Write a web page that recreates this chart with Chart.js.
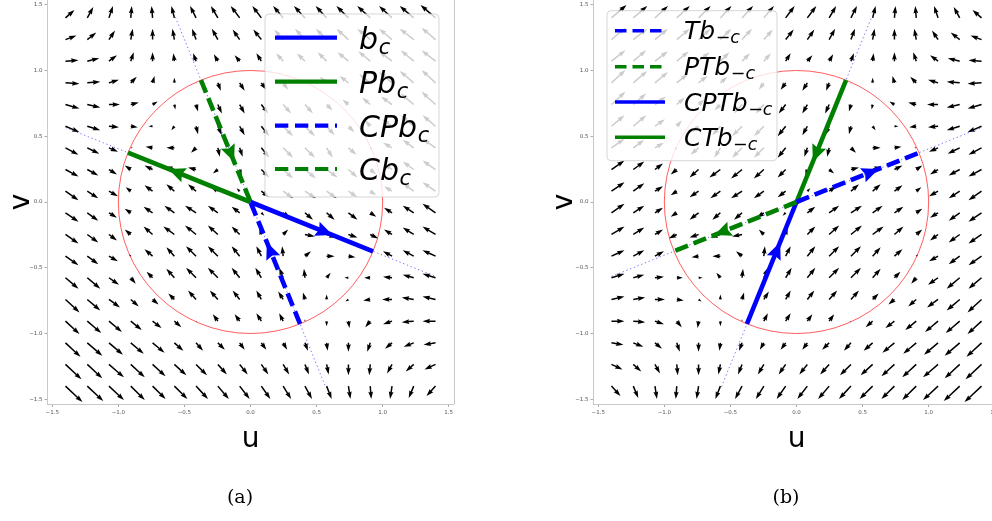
<!DOCTYPE html>
<html><head><meta charset="utf-8">
<script src="https://cdn.jsdelivr.net/npm/chart.js@4"></script>
<style>
html,body{margin:0;padding:0;background:#fff;overflow:hidden;width:992px;height:521px;}
#wrap{position:relative;width:992px;height:521px;overflow:hidden;background:#fff;}
canvas{position:absolute;top:0;}
#ca{left:0px}
#cb{left:546px}
</style></head><body><div id="wrap"><canvas id="ca" width="470" height="521"></canvas><canvas id="cb" width="470" height="521"></canvas></div>
<script>
// ---------- data ----------
const gridU = [-1.4,-1.235,-1.071,-0.906,-0.741,-0.576,-0.412,-0.247,-0.082,0.082,0.247,0.412,0.576,0.741,0.906,1.071,1.235,1.4];
const gridV = [1.4,1.235,1.071,0.906,0.741,0.576,0.412,0.247,0.082,-0.082,-0.247,-0.412,-0.576,-0.741,-0.906,-1.071,-1.235,-1.4];
const tickValues = [-1.5,-1.0,-0.5,0.0,0.5,1.0,1.5];
const tickLabels = ['\u22121.5','\u22121.0','\u22120.5','0.0','0.5','1.0','1.5'];
const circleRadius = 1.0;

// panel (a) field components (rows top->bottom, cols left->right)
const fieldA_U = [
[9,6,4,1,-1,-3,-6,-7,-9,-9,-10,-11,-11,-12,-13,-13,-14,-15],
[11,9,6,2,0,-2,-4,-6,-7,-8,-9,-10,-11,-12,-13,-13,-14,-14],
[13,12,8,3,0,-1,-3,-4,-5,-5,-7,-8,-9,-11,-12,-13,-13,-14],
[14,13,10,6,2,0,0,3,5,5,5,0,-7,-9,-11,-13,-14,-14],
[14,13,11,8,5,1,2,4,5,7,8,8,6,-6,-8,-11,-13,-14],
[14,13,10,7,-4,-3,2,4,5,8,10,10,8,6,-5,-10,-13,-13],
[13,12,9,2,-7,-8,-5,2,3,8,10,10,6,8,2,-9,-11,-13],
[13,11,8,-6,-8,-9,-8,-5,2,8,10,11,11,9,6,-8,-11,-13],
[13,11,9,-5,-8,-8,-8,-7,-3,8,10,11,10,9,6,-8,-11,-13],
[13,11,8,-6,-9,-10,-11,-10,-8,3,7,8,8,9,6,-8,-11,-13],
[13,11,8,-6,-9,-11,-11,-10,-8,-2,5,10,10,9,8,-8,-11,-13],
[13,11,9,-2,-8,-8,-10,-10,-8,-5,-1,6,8,7,0,-9,-11,-13],
[13,13,10,5,-6,-8,-10,-10,-8,-6,-4,-1,4,-4,-6,-9,-11,-13],
[14,13,11,8,6,-6,-8,-8,-7,-5,-5,-2,0,-3,-7,-10,-12,-13],
[14,14,13,11,9,7,1,-5,-5,-5,-4,0,0,1,-5,-9,-12,-13],
[15,15,14,13,12,9,7,7,5,5,4,3,1,0,-3,-7,-10,-12],
[16,15,15,14,13,12,11,9,8,7,6,4,2,0,-1,-5,-8,-11],
[17,16,15,14,13,13,12,11,10,9,8,7,5,2,1,-2,-5,-9]];
const fieldA_V = [
[8,11,12,12,12,12,12,12,12,12,12,12,12,12,12,12,12,13],
[4,7,9,11,11,11,11,11,10,10,10,11,11,11,11,11,11,12],
[1,3,6,9,9,8,8,7,6,8,8,8,9,9,10,10,11,11],
[-1,1,3,6,7,5,-1,-8,-8,-7,-7,0,6,7,9,11,12,13],
[-4,-3,0,2,3,-5,-7,-9,-9,-9,-9,-9,-6,5,7,8,11,13],
[-6,-4,-1,-1,0,-4,-8,-9,-9,-10,-10,-10,-9,-6,6,7,11,11],
[-7,-6,-4,0,1,0,-5,-9,-9,-10,-10,-10,-10,-7,-2,5,8,9],
[-7,-6,-5,4,4,3,2,-4,-6,-8,-9,-9,-8,-8,-5,6,8,9],
[-9,-7,-5,4,6,7,7,5,3,-6,-7,-7,-7,-6,-4,5,8,9],
[-9,-8,-5,4,6,7,7,7,6,-3,-5,-7,-7,-7,-4,5,7,9],
[-9,-8,-6,5,8,8,9,9,8,6,5,-2,-3,-3,-4,5,7,8],
[-9,-8,-5,2,7,9,10,10,10,10,10,5,0,-1,0,5,6,6],
[-11,-11,-7,-6,6,9,10,10,10,10,10,9,5,0,0,1,3,4],
[-13,-11,-8,-7,-5,6,9,9,9,9,8,7,5,-2,-1,0,2,3],
[-13,-12,-11,-9,-7,-6,-1,7,7,8,8,2,-5,-7,-6,-3,-1,0],
[-14,-13,-12,-11,-10,-8,-8,-7,-7,-7,-7,-8,-8,-9,-9,-6,-4,-2],
[-15,-14,-13,-13,-12,-11,-11,-10,-10,-10,-10,-10,-10,-11,-11,-9,-7,-5],
[-16,-15,-14,-14,-13,-13,-13,-13,-13,-13,-13,-13,-13,-13,-13,-13,-12,-10]];

// panel (b) field components
const fieldB_U = [
[15,14,13,13,12,11,11,10,9,9,7,6,3,1,-1,-4,-6,-9],
[14,14,13,13,12,11,10,9,8,7,6,4,2,0,-2,-6,-9,-11],
[14,13,13,12,11,9,8,7,5,5,4,3,1,0,-3,-8,-12,-13],
[14,14,13,11,9,7,0,-5,-5,-5,-3,0,0,-2,-6,-10,-13,-14],
[14,13,11,8,6,-6,-8,-8,-7,-5,-4,-2,-1,-5,-8,-11,-13,-14],
[13,13,10,5,-6,-8,-10,-10,-8,-5,-4,-2,3,4,-7,-10,-13,-14],
[13,11,9,-2,-8,-6,-10,-10,-8,-3,-2,5,8,7,-2,-9,-12,-13],
[13,11,8,-6,-9,-11,-11,-10,-8,-2,5,8,9,8,6,-8,-11,-13],
[13,11,8,-6,-9,-10,-11,-10,-8,3,7,8,8,8,5,-9,-11,-13],
[13,11,8,-6,-9,-8,-8,-7,-3,8,10,11,10,9,6,-8,-11,-13],
[13,11,8,-8,-9,-10,-10,-5,2,8,10,11,11,9,6,-8,-11,-13],
[13,11,9,0,-7,-8,-6,1,5,8,10,10,8,8,2,-9,-11,-13],
[13,11,9,6,4,-4,1,4,6,8,10,10,8,6,-5,-10,-13,-13],
[13,12,10,7,3,0,2,5,5,7,8,8,6,-6,-8,-11,-13,-14],
[13,12,9,5,-1,0,0,4,5,5,5,-1,-7,-9,-11,-13,-14,-14],
[12,10,7,3,0,-1,-3,-4,-5,-5,-7,-7,-9,-12,-13,-14,-15,-15],
[11,8,5,1,0,-2,-4,-6,-7,-8,-9,-11,-12,-13,-14,-15,-15,-16],
[9,5,2,-1,-2,-5,-7,-8,-9,-10,-11,-12,-13,-13,-14,-15,-16,-17]];
const fieldB_V = [
[13,12,12,12,12,12,12,12,12,12,12,12,12,12,12,12,11,8],
[12,11,11,11,11,11,11,10,10,10,11,11,11,11,11,9,7,4],
[11,11,10,10,9,9,8,8,8,6,7,8,8,9,9,6,3,1],
[13,12,11,9,7,6,0,-7,-7,-8,-8,-1,5,7,6,3,1,-1],
[13,11,8,7,5,-6,-9,-9,-9,-9,-9,-7,-5,3,2,0,-3,-4],
[11,11,7,6,-6,-9,-10,-10,-10,-9,-9,-8,-4,0,-1,-1,-4,-6],
[9,8,5,-2,-7,-10,-10,-10,-10,-9,-9,-5,0,1,0,-4,-6,-7],
[9,8,6,-5,-8,-8,-9,-9,-8,-6,-4,2,3,4,4,-5,-6,-7],
[9,8,5,-4,-6,-7,-7,-7,-6,3,5,7,7,6,4,-5,-7,-9],
[9,7,5,-4,-7,-7,-7,-5,-3,6,7,7,7,6,4,-5,-8,-9],
[8,7,5,-4,-3,-3,-2,5,6,8,9,9,8,8,5,-6,-8,-9],
[6,6,5,0,-1,0,5,10,10,10,10,10,9,7,2,-5,-8,-9],
[4,3,1,0,0,5,9,10,10,10,10,10,9,6,-6,-7,-11,-11],
[3,2,0,-1,-2,5,7,8,9,9,9,9,6,-5,-7,-8,-11,-13],
[0,-1,-3,-6,-7,-5,2,8,8,7,7,-1,-6,-7,-9,-11,-12,-13],
[-2,-4,-6,-9,-9,-8,-8,-7,-7,-7,-7,-8,-8,-10,-11,-12,-13,-14],
[-5,-7,-9,-11,-11,-10,-10,-10,-10,-10,-10,-11,-11,-12,-13,-13,-14,-15],
[-10,-12,-13,-13,-13,-13,-13,-13,-13,-13,-13,-13,-13,-13,-14,-14,-15,-16]];
const quiverScale = 132; // field units per data unit

// lines, panel (a): [start, end]
const lineA_bc   = [[0,0],[0.927,-0.375]];
const lineA_Pbc  = [[0,0],[-0.927,0.375]];
const lineA_CPbc = [[0.375,-0.927],[0,0]];
const lineA_Cbc  = [[-0.375,0.927],[0,0]];
const guideA1 = [[-1.4,0.566],[1.4,-0.566]];
const guideA2 = [[-0.568,1.405],[0.568,-1.405]];
// lines, panel (b)
const lineB_Tb    = [[0,0],[0.927,0.375]];
const lineB_PTb   = [[0,0],[-0.927,-0.375]];
const lineB_CPTb  = [[-0.375,-0.927],[0,0]];
const lineB_CTb   = [[0.375,0.927],[0,0]];
const guideB1 = [[-1.4,-0.566],[1.4,0.566]];
const guideB2 = [[-0.568,-1.405],[0.568,1.405]];

const legendMainA = ['b','Pb','CPb','Cb'];
const legendSubA  = ['c','c','c','c'];
const legendMainB = ['Tb','PTb','CPTb','CTb'];
const legendSubB  = ['\u2212c','\u2212c','\u2212c','\u2212c'];

// ---------- drawing helpers ----------
const BLUE = '#0000ff', GREEN = '#008000';
const toPts = a => a.map(p => ({x:p[0], y:p[1]}));

function quiverArrow(ctx, x0, y0, x1, y1, w) {
  const dx = x1 - x0, dy = y1 - y0, L = Math.hypot(dx, dy);
  if (L < 0.6) return;
  let hl = 5*w, hal = 4.5*w, hw = 1.6*w, sw = w/2;
  if (L < hl) { const s = L/hl; hl*=s; hal*=s; hw*=s; sw*=s; }
  const ux = dx/L, uy = dy/L, px = -uy, py = ux;
  const pts = [[0,sw],[L-hal,sw],[L-hl,hw],[L,0],[L-hl,-hw],[L-hal,-sw],[0,-sw]];
  ctx.beginPath();
  pts.forEach(([a,b],i)=>{const X=x0+ux*a+px*b, Y=y0+uy*a+py*b; i?ctx.lineTo(X,Y):ctx.moveTo(X,Y);});
  ctx.closePath(); ctx.fill();
}

function roundRect(ctx, x, y, w, h, r) {
  ctx.beginPath();
  ctx.moveTo(x+r, y); ctx.lineTo(x+w-r, y); ctx.arcTo(x+w, y, x+w, y+r, r);
  ctx.lineTo(x+w, y+h-r); ctx.arcTo(x+w, y+h, x+w-r, y+h, r);
  ctx.lineTo(x+r, y+h); ctx.arcTo(x, y+h, x, y+h-r, r);
  ctx.lineTo(x, y+r); ctx.arcTo(x, y, x+r, y, r); ctx.closePath();
}

function makePanel(id, P) {
  const ds = [];
  P.lines.forEach(l => ds.push({data: toPts(l.pts), showLine:true, borderColor:l.color, borderWidth:4.6,
      borderDash: l.dash ? [13.5,6] : [], pointRadius:0, borderCapStyle:'butt', tension:0}));
  P.guides.forEach(g => ds.push({data: toPts(g), showLine:true, borderColor:'rgba(80,80,255,0.8)', borderWidth:1,
      borderDash:[1.3,2.7], pointRadius:0}));

  const plugin = {
    id: 'panel_'+id,
    beforeDatasetsDraw(chart) {
      const ctx = chart.ctx, a = chart.chartArea, xs = chart.scales.x, ys = chart.scales.y;
      ctx.save();
      ctx.beginPath(); ctx.rect(a.left, a.top, a.right-a.left, a.bottom-a.top); ctx.clip();
      ctx.fillStyle = '#000';
      for (let j = 0; j < gridV.length; j++) for (let i = 0; i < gridU.length; i++) {
        const u = gridU[i], v = gridV[j];
        const x0 = xs.getPixelForValue(u), y0 = ys.getPixelForValue(v);
        const x1 = xs.getPixelForValue(u + P.U[j][i]/quiverScale), y1 = ys.getPixelForValue(v + P.V[j][i]/quiverScale);
        quiverArrow(ctx, x0, y0, x1, y1, 1.5);
      }
      // unit circle
      const cx = xs.getPixelForValue(0), cy = ys.getPixelForValue(0);
      const rx = xs.getPixelForValue(circleRadius) - cx, ry = cy - ys.getPixelForValue(circleRadius);
      ctx.beginPath(); ctx.ellipse(cx, cy, rx, ry, 0, 0, Math.PI*2);
      ctx.strokeStyle = 'rgba(255,40,40,0.75)'; ctx.lineWidth = 1; ctx.stroke();
      ctx.restore();
    },
    afterDatasetsDraw(chart) {
      const ctx = chart.ctx, a = chart.chartArea, xs = chart.scales.x, ys = chart.scales.y;
      ctx.save();
      // arrowheads on the trajectories
      P.lines.forEach(l => {
        const [s, e] = l.pts;
        const sx = xs.getPixelForValue(s[0]), sy = ys.getPixelForValue(s[1]);
        const ex = xs.getPixelForValue(e[0]), ey = ys.getPixelForValue(e[1]);
        const L = Math.hypot(ex-sx, ey-sy), ux = (ex-sx)/L, uy = (ey-sy)/L, px = -uy, py = ux;
        const tx = sx + ux*L*0.67, ty = sy + uy*L*0.67, hl = 17, hw = 7.5;
        ctx.beginPath(); ctx.moveTo(tx, ty);
        ctx.lineTo(tx - ux*hl + px*hw, ty - uy*hl + py*hw);
        ctx.lineTo(tx - ux*hl*0.85, ty - uy*hl*0.85);
        ctx.lineTo(tx - ux*hl - px*hw, ty - uy*hl - py*hw);
        ctx.closePath(); ctx.fillStyle = l.color; ctx.fill();
      });
      // right spine
      ctx.strokeStyle = '#c8c8c8'; ctx.lineWidth = 1;
      ctx.beginPath(); ctx.moveTo(Math.round(a.right)+0.5, a.top); ctx.lineTo(Math.round(a.right)+0.5, a.bottom); ctx.stroke();
      ctx.restore();
    },
    afterDraw(chart) {
      const ctx = chart.ctx, xs = chart.scales.x, ys = chart.scales.y;
      const G = P.legend;
      ctx.save();
      roundRect(ctx, G.x, G.y, G.w, G.h, 4);
      ctx.fillStyle = 'rgba(255,255,255,0.8)'; ctx.fill();
      ctx.strokeStyle = 'rgba(204,204,204,0.8)'; ctx.lineWidth = 1; ctx.stroke();
      G.items.forEach((it, k) => {
        const y = G.rows[k];
        ctx.strokeStyle = it.color; ctx.lineWidth = G.lw; ctx.lineCap = 'butt';
        ctx.setLineDash(it.dash ? G.dash : []);
        ctx.beginPath(); ctx.moveTo(G.lx0, y); ctx.lineTo(G.lx1, y); ctx.stroke();
        ctx.setLineDash([]);
        ctx.fillStyle = '#000'; ctx.textBaseline = 'alphabetic'; ctx.textAlign = 'left';
        ctx.font = 'italic ' + G.fs + 'px "DejaVu Sans"';
        const base = y + G.base;
        ctx.fillText(G.main[k], G.tx, base);
        let x = G.tx + ctx.measureText(G.main[k]).width + G.fs*0.02;
        const sfs = G.fs*0.7, sb = base + G.fs*0.17;
        const sub = G.sub[k];
        for (const ch of sub) {
          ctx.font = (ch === '\u2212' ? '' : 'italic ') + sfs + 'px "DejaVu Sans"';
          ctx.fillText(ch, x, sb);
          x += ctx.measureText(ch).width;
        }
      });
      // axis titles
      ctx.fillStyle = '#000'; ctx.textAlign = 'center'; ctx.textBaseline = 'alphabetic';
      ctx.font = '28px "DejaVu Sans"';
      ctx.fillText('u', xs.getPixelForValue(0), 447);
      ctx.save();
      ctx.translate(P.vx, ys.getPixelForValue(0)); ctx.rotate(-Math.PI/2);
      ctx.textBaseline = 'middle'; ctx.fillText('v', 0, 0);
      ctx.restore();
      // caption
      ctx.font = '19px "DejaVu Serif", "Liberation Serif", serif';
      ctx.textBaseline = 'middle';
      ctx.fillText(P.caption, P.capx, 498);
      ctx.restore();
    }
  };

  const axisCommon = {
    type: 'linear', min: -1.536, max: 1.536,
    afterBuildTicks: s => { s.ticks = tickValues.map(v => ({value: v})); },
    ticks: { callback: (v, i) => tickLabels[i], font: {size: 5.5, family: '"DejaVu Sans"'}, color: '#555', padding: 2,
             autoSkip: false, maxRotation: 0, minRotation: 0 },
    grid: { display: true, drawOnChartArea: false, drawTicks: true, tickLength: 3, color: '#aaa' },
    border: { display: true, color: '#c8c8c8', width: 1 }
  };
  return new Chart(document.getElementById(id), {
    type: 'scatter',
    data: { datasets: ds },
    options: {
      responsive: false, animation: false, devicePixelRatio: 1,
      layout: { padding: { left: 0, top: 0, right: 16.5, bottom: 97 } },
      plugins: { legend: {display: false}, tooltip: {enabled: false} },
      scales: {
        x: Object.assign({}, axisCommon, { afterFit: s => { s.height = 20; s.paddingLeft = 0; s.paddingRight = 0; } }),
        y: Object.assign({}, axisCommon, { afterFit: s => { s.width = 47.5; s.paddingTop = 0; s.paddingBottom = 0; } })
      }
    },
    plugins: [plugin]
  });
}

makePanel('ca', {
  U: fieldA_U, V: fieldA_V,
  lines: [
    {pts: lineA_bc, color: BLUE, dash: false},
    {pts: lineA_Pbc, color: GREEN, dash: false},
    {pts: lineA_CPbc, color: BLUE, dash: true},
    {pts: lineA_Cbc, color: GREEN, dash: true}],
  guides: [guideA1, guideA2],
  legend: { x: 265, y: 14, w: 174, h: 183, rows: [37.7, 81.7, 125.7, 169], lx0: 275, lx1: 337, lw: 4.2, dash: [13.3,6.7],
            tx: 359, fs: 30, base: 11, main: legendMainA, sub: legendSubA,
            items: [{color: BLUE, dash: false},{color: GREEN, dash: false},{color: BLUE, dash: true},{color: GREEN, dash: true}] },
  vx: 22, caption: '(a)', capx: 240
});
makePanel('cb', {
  U: fieldB_U, V: fieldB_V,
  lines: [
    {pts: lineB_Tb, color: BLUE, dash: true},
    {pts: lineB_PTb, color: GREEN, dash: true},
    {pts: lineB_CPTb, color: BLUE, dash: false},
    {pts: lineB_CTb, color: GREEN, dash: false}],
  guides: [guideB1, guideB2],
  legend: { x: 61, y: 10.7, w: 170, h: 150, rows: [30.7, 66.7, 102, 137.3], lx0: 69, lx1: 119, lw: 3.4, dash: [11.5,6],
            tx: 138, fs: 25, base: 8.5, main: legendMainB, sub: legendSubB,
            items: [{color: BLUE, dash: true},{color: GREEN, dash: true},{color: BLUE, dash: false},{color: GREEN, dash: false}] },
  vx: 19, caption: '(b)', capx: 240
});
</script></body></html>
